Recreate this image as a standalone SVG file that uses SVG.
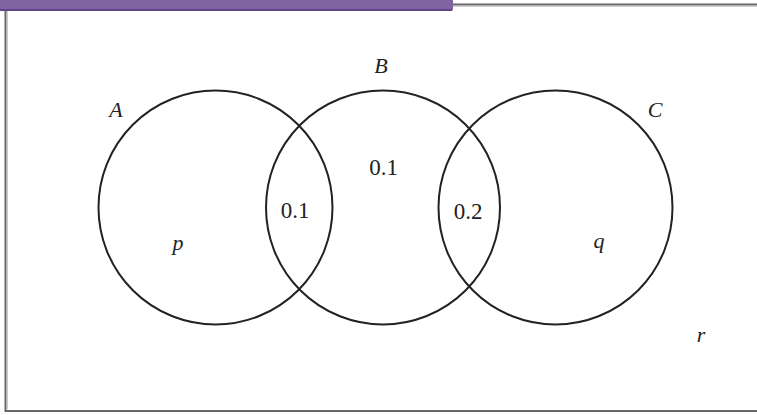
<svg xmlns="http://www.w3.org/2000/svg" width="757" height="415" viewBox="0 0 757 415">
<style>
.c{fill:none;stroke:#222;stroke-width:2}
.t{font-family:"Liberation Serif",serif;font-size:23px;fill:#222}
.i{font-style:italic;font-size:22px}
.m{text-anchor:middle}
</style>
<rect x="0" y="0" width="757" height="415" fill="#fff"/>
<g id="frame">
<path d="M5.5,6 V411 H757" fill="none" stroke="#666" stroke-width="2"/>
<path d="M7.5,6 V409" fill="none" stroke="#ccc" stroke-width="1"/>
<path d="M440,4.5 H757" fill="none" stroke="#666" stroke-width="2"/>
<path d="M440,6.5 H757" fill="none" stroke="#ccc" stroke-width="1"/>
<path d="M0,0 H453 V9 Q453,11 451,11 H0 Z" fill="#7f63a3"/>
<path d="M0,10 H452" stroke="#5f4585" stroke-width="2"/>
</g>
<g id="A"><circle class="c" cx="215.5" cy="207.5" r="117"/><text class="t i m" x="116" y="117">A</text><text class="t i m" x="178" y="250">p</text></g>
<g id="B"><circle class="c" cx="383" cy="207.5" r="117"/><text class="t i m" x="381" y="73">B</text><text class="t m" x="383.5" y="175">0.1</text></g>
<g id="C"><circle class="c" cx="555.5" cy="207.5" r="117"/><text class="t i m" x="655" y="117">C</text><text class="t i m" x="599" y="248">q</text></g>
<g id="AB"><text class="t m" x="295" y="218">0.1</text></g>
<g id="BC"><text class="t m" x="468" y="219">0.2</text></g>
<g id="U"><text class="t i m" x="701" y="342">r</text></g>
<g id="connectors"/>
</svg>
